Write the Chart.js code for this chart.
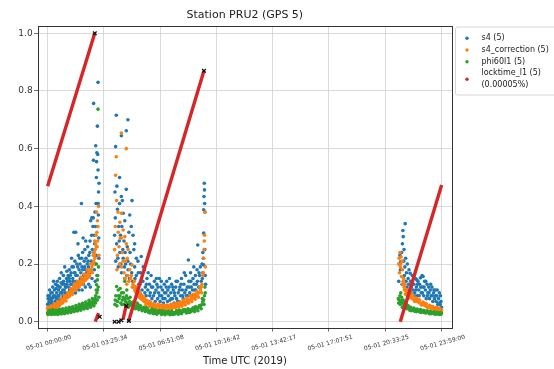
<!DOCTYPE html>
<html><head><meta charset="utf-8">
<script src="https://cdn.jsdelivr.net/npm/chart.js@4/dist/chart.umd.min.js"></script>
<style>html,body{margin:0;padding:0;background:#fff;}canvas{display:block;}</style>
</head><body>
<canvas id="c" width="554" height="369"></canvas>
<script>
// ---- tick labels ----
const tickLabels = ['05-01 00:00:00','05-01 03:25:34','05-01 06:51:08','05-01 10:16:42','05-01 13:42:17','05-01 17:07:51','05-01 20:33:25','05-01 23:59:00'];
const yTicks = [0, 0.2, 0.4, 0.6, 0.8, 1.0];
const seriesLabels = ['s4 (5)', 's4_correction (5)', 'phi60l1 (5)', 'locktime_l1 (5)\n(0.00005%)'];

// ---- series values: [hour UTC, value] ----
const s4Data = [
[0.00,0.06],[0.03,0.08],[0.07,0.05],[0.10,0.07],[0.13,0.09],[0.17,0.06],[0.20,0.10],[0.24,0.07],[0.27,0.08],[0.31,0.12],[0.34,0.06],[0.38,0.09],[0.41,0.11],[0.45,0.07],[0.48,0.13],[0.52,0.08],[0.55,0.10],[0.59,0.14],[0.62,0.07],[0.66,0.11],[0.69,0.09],[0.73,0.15],[0.76,0.12],[0.80,0.08],[0.83,0.17],[0.87,0.10],[0.90,0.13],[0.94,0.09],[0.97,0.14],[1.01,0.11],[1.04,0.19],[1.08,0.12],[1.11,0.09],[1.15,0.15],[1.18,0.13],[1.22,0.10],[1.25,0.16],[1.29,0.12],[1.32,0.18],[1.36,0.14],[1.39,0.11],[1.43,0.17],[1.46,0.22],[1.50,0.13],[1.53,0.15],[1.57,0.19],[1.60,0.31],[1.64,0.12],[1.67,0.17],[1.71,0.31],[1.74,0.14],[1.78,0.20],[1.81,0.16],[1.85,0.27],[1.88,0.13],[1.92,0.18],[1.95,0.22],[1.99,0.15],[2.02,0.17],[2.06,0.41],[2.09,0.19],[2.13,0.24],[2.16,0.29],[2.20,0.16],[2.23,0.21],[2.27,0.25],[2.30,0.18],[2.34,0.22],[2.37,0.15],[2.41,0.20],[2.44,0.26],[2.48,0.19],[2.51,0.23],[2.55,0.17],[2.58,0.28],[2.62,0.35],[2.65,0.21],[2.69,0.36],[2.72,0.25],[2.76,0.33],[2.79,0.56],[2.80,0.757],[2.83,0.30],[2.86,0.27],[2.90,0.20],[2.93,0.61],[2.95,0.41],[2.97,0.50],[2.98,0.555],[3.00,0.586],[3.03,0.678],[3.05,0.58],[3.07,0.83],[3.07,0.526],[3.08,0.41],[3.09,0.37],[3.10,0.45],[3.11,0.29],[3.12,0.22],[3.13,0.48],
[2.10,0.11],[2.30,0.12],[2.50,0.13],[2.70,0.15],[2.90,0.14],[2.60,0.12],[2.85,0.18],[3.00,0.16],[1.90,0.11],[1.70,0.10],
[0.02,0.09],[0.08,0.065],[0.12,0.11],[0.18,0.08],[0.22,0.055],[0.28,0.10],[0.33,0.085],[0.36,0.14],[0.43,0.09],[0.47,0.06],[0.51,0.115],[0.57,0.085],[0.61,0.125],[0.64,0.09],[0.68,0.075],[0.71,0.12],[0.78,0.10],[0.82,0.135],[0.86,0.075],[0.92,0.11],[0.96,0.16],[0.99,0.085],[1.03,0.13],[1.06,0.10],[1.13,0.12],[1.17,0.175],[1.21,0.14],[1.27,0.09],[1.31,0.15],[1.34,0.11],[1.38,0.16],[1.42,0.13],[1.48,0.19],[1.52,0.11],[1.56,0.14],[1.62,0.17],[1.66,0.21],[1.72,0.16],[1.76,0.12],[1.83,0.19],[1.87,0.23],[1.93,0.14],[1.97,0.20],[2.04,0.15],[2.08,0.22],[2.14,0.18],[2.18,0.13],[2.25,0.19],[2.32,0.28],[2.39,0.17],[2.46,0.21],[2.53,0.16],[2.57,0.24],[2.64,0.18],[2.68,0.30],[2.74,0.20],[2.78,0.36],[2.82,0.24],[2.88,0.38],[2.92,0.33],[2.96,0.23],
[4.14,0.607],[4.18,0.716],[4.38,0.50],[4.49,0.645],[4.79,0.662],[4.89,0.70],[4.79,0.459],[4.49,0.434],[4.38,0.41],[4.55,0.42],[5.14,0.42],[4.60,0.376],[4.70,0.35],[5.00,0.37],[5.09,0.33],[5.20,0.30],[5.30,0.27],[5.25,0.25],[5.40,0.22],[4.10,0.45],[4.25,0.39],[4.33,0.33],[4.44,0.30],[4.65,0.28],[4.85,0.26],[4.95,0.31],[4.20,0.27],[4.40,0.24],[4.60,0.22],[4.75,0.20],[4.90,0.18],[5.05,0.20],[4.30,0.19],[4.50,0.17],[4.70,0.15],[4.15,0.21],
[4.08,0.30],[4.12,0.36],[4.22,0.47],[4.28,0.22],[4.36,0.28],[4.46,0.20],[4.52,0.33],[4.58,0.25],[4.68,0.19],[4.72,0.24],[4.82,0.16],[4.88,0.21],[4.98,0.15],[5.02,0.24],[5.12,0.17],[5.18,0.14],
[5.30,0.19],[5.35,0.12],[5.40,0.16],[5.45,0.09],[5.50,0.21],[5.55,0.13],[5.60,0.10],[5.65,0.17],[5.70,0.226],[5.75,0.11],[5.80,0.14],[5.85,0.08],[5.90,0.18],[5.95,0.12],[6.00,0.09],[6.05,0.15],[6.10,0.11],[6.15,0.07],[6.20,0.13],[6.25,0.10],[6.30,0.16],[6.35,0.08],[6.40,0.12],[6.45,0.09],[6.50,0.14],[6.55,0.07],[6.60,0.11],[6.65,0.13],[6.70,0.08],[6.75,0.10],[6.80,0.15],[6.85,0.07],[6.90,0.12],[6.95,0.09],[7.00,0.11],[7.05,0.065],[7.10,0.13],[7.15,0.08],[7.20,0.10],[7.25,0.14],[7.30,0.07],[7.35,0.09],[7.40,0.12],[7.45,0.075],[7.50,0.10],[7.55,0.13],[7.60,0.08],[7.65,0.11],[7.70,0.065],[7.75,0.09],[7.80,0.12],[7.85,0.08],[7.90,0.14],[7.95,0.10],[8.00,0.07],[8.05,0.12],[8.10,0.09],[8.15,0.15],[8.20,0.11],[8.25,0.08],[8.30,0.13],[8.35,0.10],[8.40,0.16],[8.45,0.09],[8.50,0.12],[8.57,0.214],[8.60,0.14],[8.65,0.10],[8.70,0.17],[8.75,0.12],[8.80,0.09],[8.85,0.15],[8.90,0.19],[8.95,0.11],[9.00,0.16],[9.05,0.13],[9.10,0.18],[9.14,0.266],[9.20,0.12],[9.25,0.16],[9.30,0.19],[9.35,0.14],[9.40,0.20],[9.45,0.17],[9.50,0.197],[9.54,0.48],[9.55,0.457],[9.52,0.434],[9.56,0.41],[9.50,0.388],[9.58,0.38],[9.50,0.307],[9.60,0.16],[9.62,0.13],[9.45,0.24],
[5.32,0.15],[5.42,0.11],[5.52,0.17],[5.62,0.13],[5.72,0.09],[5.82,0.19],[5.92,0.10],[6.02,0.13],[6.12,0.17],[6.22,0.09],[6.32,0.12],[6.42,0.06],[6.52,0.10],[6.62,0.15],[6.72,0.12],[6.82,0.09],[6.92,0.14],[7.02,0.08],[7.12,0.10],[7.22,0.12],[7.32,0.11],[7.42,0.15],[7.52,0.08],[7.62,0.12],[7.72,0.10],[7.82,0.14],[7.92,0.07],[8.02,0.11],[8.12,0.13],[8.22,0.09],[8.32,0.17],[8.42,0.11],[8.52,0.09],[8.62,0.12],[8.72,0.14],[8.82,0.11],[8.92,0.13],[9.02,0.11],[9.12,0.14],[9.22,0.17],[9.32,0.12],[9.42,0.15],[9.48,0.22],[9.57,0.25],
[21.40,0.20],[21.45,0.23],[21.50,0.209],[21.55,0.24],[21.60,0.27],[21.63,0.316],[21.65,0.295],[21.70,0.25],[21.75,0.19],[21.77,0.34],[21.80,0.22],[21.85,0.17],[21.90,0.20],[21.95,0.15],[22.00,0.18],[22.07,0.168],[22.10,0.14],[22.15,0.12],[22.20,0.16],[22.25,0.11],[22.30,0.13],[22.35,0.10],[22.40,0.15],[22.45,0.12],[22.48,0.145],[22.50,0.09],[22.55,0.14],[22.60,0.11],[22.65,0.13],[22.70,0.152],[22.75,0.10],[22.80,0.16],[22.86,0.157],[22.85,0.12],[22.90,0.09],[22.95,0.14],[23.00,0.11],[23.05,0.08],[23.10,0.13],[23.15,0.10],[23.20,0.12],[23.25,0.08],[23.30,0.11],[23.35,0.09],[23.40,0.12],[23.45,0.07],[23.50,0.10],[23.55,0.08],[23.60,0.11],[23.65,0.07],[23.70,0.09],[23.75,0.06],[23.80,0.08],[23.85,0.10],[23.90,0.06],[23.95,0.07],[23.98,0.05],
[21.38,0.14],[21.48,0.18],[21.58,0.13],[21.68,0.21],[21.72,0.16],[21.82,0.14],[21.88,0.12],[21.98,0.13],[22.02,0.11],[22.12,0.10],[22.22,0.13],[22.32,0.09],[22.42,0.11],[22.52,0.13],[22.62,0.09],[22.72,0.12],[22.82,0.10],[22.92,0.12],[23.02,0.14],[23.12,0.09],[23.22,0.10],[23.32,0.13],[23.42,0.09],[23.52,0.11],[23.62,0.09],[23.72,0.11],[23.82,0.065],[23.92,0.09]
];
const s4CorrData = [
[0.00,0.045],[0.05,0.040],[0.10,0.050],[0.15,0.042],[0.20,0.048],[0.25,0.052],[0.30,0.045],[0.35,0.050],[0.40,0.055],[0.45,0.048],[0.50,0.058],[0.55,0.052],[0.60,0.060],[0.65,0.055],[0.70,0.065],[0.75,0.060],[0.80,0.070],[0.85,0.064],[0.90,0.075],[0.95,0.070],[1.00,0.080],[1.05,0.075],[1.10,0.085],[1.15,0.090],[1.20,0.083],[1.25,0.095],[1.30,0.100],[1.35,0.092],[1.40,0.105],[1.45,0.110],[1.50,0.100],[1.55,0.115],[1.60,0.120],[1.65,0.110],[1.70,0.125],[1.75,0.118],[1.80,0.130],[1.85,0.122],[1.90,0.135],[1.95,0.128],[2.00,0.140],[2.05,0.130],[2.10,0.145],[2.15,0.138],[2.20,0.150],[2.25,0.142],[2.30,0.155],[2.35,0.160],[2.40,0.150],[2.45,0.165],[2.50,0.170],[2.55,0.160],[2.60,0.180],[2.65,0.175],[2.70,0.190],[2.75,0.200],[2.80,0.210],[2.85,0.230],[2.88,0.220],[2.90,0.250],[2.93,0.270],[2.95,0.300],[2.97,0.260],[3.00,0.310],[3.03,0.350],[3.05,0.280],[3.07,0.330],[3.10,0.400],[3.12,0.230],
[0.02,0.050],[0.12,0.038],[0.22,0.055],[0.32,0.040],[0.42,0.062],[0.52,0.046],[0.62,0.070],[0.72,0.055],[0.82,0.080],[0.92,0.065],[1.02,0.090],[1.12,0.072],[1.22,0.100],[1.32,0.088],[1.42,0.115],[1.52,0.095],[1.62,0.130],[1.72,0.110],[1.82,0.140],[1.92,0.120],[2.02,0.155],[2.12,0.130],[2.22,0.165],[2.32,0.145],[2.42,0.180],[2.52,0.155],[2.62,0.200],[2.72,0.170],[2.82,0.240],[2.92,0.200],[3.02,0.260],[2.98,0.380],[2.87,0.280],[2.78,0.230],
[4.18,0.572],[4.14,0.508],[4.49,0.654],[4.79,0.600],[4.49,0.376],[4.40,0.345],[4.60,0.318],[4.70,0.295],[4.49,0.290],[4.79,0.270],[4.90,0.250],[4.50,0.190],[5.14,0.197],[4.85,0.220],[5.00,0.180],[5.10,0.160],[4.70,0.150],[4.25,0.230],[4.35,0.260],[4.20,0.420],[4.30,0.310],[4.60,0.210],[4.95,0.140],[5.20,0.130],
[4.08,0.250],[4.12,0.330],[4.22,0.180],[4.28,0.380],[4.38,0.200],[4.42,0.290],[4.55,0.240],[4.65,0.170],[4.75,0.210],[4.82,0.130],[4.88,0.160],[5.05,0.150],[5.15,0.120],
[5.25,0.120],[5.30,0.110],[5.35,0.105],[5.40,0.100],[5.45,0.095],[5.50,0.092],[5.55,0.088],[5.60,0.085],[5.65,0.082],[5.70,0.080],[5.75,0.077],[5.80,0.075],[5.85,0.072],[5.90,0.070],[5.95,0.068],[6.00,0.067],[6.05,0.065],[6.10,0.063],[6.15,0.062],[6.20,0.060],[6.25,0.059],[6.30,0.058],[6.35,0.057],[6.40,0.056],[6.45,0.055],[6.50,0.054],[6.60,0.053],[6.70,0.052],[6.80,0.051],[6.90,0.050],[7.00,0.050],[7.10,0.049],[7.20,0.050],[7.30,0.050],[7.40,0.051],[7.50,0.052],[7.60,0.053],[7.70,0.054],[7.80,0.055],[7.90,0.057],[8.00,0.058],[8.10,0.060],[8.20,0.062],[8.30,0.065],[8.40,0.068],[8.50,0.070],[8.60,0.073],[8.70,0.076],[8.80,0.080],[8.90,0.083],[9.00,0.087],[9.10,0.092],[9.20,0.100],[9.30,0.110],[9.35,0.120],[9.40,0.130],[9.45,0.160],[9.50,0.220],[9.52,0.250],[9.54,0.280],[9.55,0.300],[9.58,0.380],[9.60,0.190],
[5.50,0.100],[6.00,0.075],[6.50,0.062],[7.00,0.058],[7.50,0.060],[8.00,0.066],[8.50,0.078],[9.00,0.095],[6.25,0.068],[6.75,0.060],[7.25,0.057],[7.75,0.062],[8.25,0.070],[8.75,0.085],
[5.28,0.140],[5.38,0.120],[5.48,0.110],[5.58,0.100],[5.68,0.095],[5.78,0.088],[5.88,0.082],[5.98,0.058],[6.08,0.072],[6.18,0.052],[6.28,0.065],[6.38,0.048],[6.48,0.060],[6.58,0.045],[6.68,0.058],[6.78,0.044],[6.88,0.056],[6.98,0.043],[7.08,0.056],[7.18,0.044],[7.28,0.057],[7.38,0.045],[7.48,0.058],[7.58,0.046],[7.68,0.060],[7.78,0.048],[7.88,0.064],[7.98,0.050],[8.08,0.068],[8.18,0.054],[8.28,0.075],[8.38,0.058],[8.48,0.082],[8.58,0.064],[8.68,0.090],[8.78,0.070],[8.88,0.095],[8.98,0.078],[9.08,0.105],[9.18,0.085],[9.28,0.120],[9.38,0.100],[9.48,0.170],
[21.40,0.220],[21.45,0.240],[21.50,0.200],[21.55,0.157],[21.60,0.180],[21.65,0.140],[21.70,0.120],[21.75,0.130],[21.80,0.110],[21.85,0.100],[21.90,0.095],[21.95,0.090],[22.00,0.088],[22.10,0.085],[22.20,0.080],[22.30,0.077],[22.40,0.075],[22.50,0.070],[22.60,0.067],[22.70,0.064],[22.80,0.060],[22.90,0.058],[23.00,0.055],[23.10,0.052],[23.20,0.050],[23.30,0.048],[23.40,0.046],[23.50,0.045],[23.60,0.044],[23.70,0.042],[23.80,0.041],[23.90,0.040],[23.98,0.040],
[22.05,0.100],[22.25,0.090],[22.45,0.082],[22.65,0.075],[22.85,0.068],[23.05,0.062],[23.25,0.057],[23.45,0.053],[23.65,0.050],[23.85,0.047],[21.42,0.170],[21.52,0.225],
[21.38,0.200],[21.48,0.190],[21.58,0.210],[21.62,0.130],[21.68,0.150],[21.72,0.110],[21.78,0.095],[21.88,0.110],[21.98,0.082],[22.15,0.095],[22.35,0.070],[22.55,0.078],[22.75,0.058],[22.95,0.064],[23.15,0.048],[23.35,0.053],[23.55,0.042],[23.75,0.047],[23.95,0.037]
];
const phiData = [
[0.00,0.030],[0.05,0.035],[0.10,0.028],[0.15,0.032],[0.20,0.038],[0.25,0.030],[0.30,0.027],[0.35,0.033],[0.40,0.036],[0.45,0.030],[0.50,0.028],[0.55,0.034],[0.60,0.031],[0.65,0.037],[0.70,0.030],[0.75,0.033],[0.80,0.040],[0.85,0.032],[0.90,0.036],[0.95,0.030],[1.00,0.034],[1.05,0.038],[1.10,0.032],[1.15,0.040],[1.20,0.035],[1.25,0.037],[1.30,0.042],[1.35,0.036],[1.40,0.040],[1.45,0.045],[1.50,0.038],[1.55,0.042],[1.60,0.046],[1.65,0.040],[1.70,0.044],[1.75,0.050],[1.80,0.043],[1.85,0.047],[1.90,0.052],[1.95,0.045],[2.00,0.050],[2.05,0.055],[2.10,0.048],[2.15,0.052],[2.20,0.058],[2.25,0.050],[2.30,0.055],[2.35,0.060],[2.40,0.054],[2.45,0.058],[2.50,0.064],[2.55,0.057],[2.60,0.062],[2.65,0.068],[2.70,0.060],[2.75,0.065],[2.80,0.072],[2.85,0.070],[2.90,0.080],[2.93,0.090],[2.96,0.110],[2.98,0.128],[3.00,0.100],[3.03,0.145],[3.05,0.160],[3.07,0.737],[3.08,0.120],[3.10,0.190],[3.12,0.085],
[0.02,0.025],[0.12,0.040],[0.22,0.025],[0.32,0.042],[0.42,0.026],[0.52,0.040],[0.62,0.025],[0.72,0.043],[0.82,0.027],[0.92,0.045],[1.02,0.028],[1.12,0.047],[1.22,0.030],[1.32,0.050],[1.42,0.032],[1.52,0.052],[1.62,0.035],[1.72,0.056],[1.82,0.037],[1.92,0.060],[2.02,0.040],[2.12,0.064],[2.22,0.044],[2.32,0.068],[2.42,0.046],[2.52,0.074],[2.62,0.050],[2.72,0.080],[2.82,0.055],[2.92,0.065],[3.02,0.075],[2.97,0.200],[3.04,0.110],
[4.10,0.060],[4.15,0.090],[4.20,0.122],[4.25,0.070],[4.30,0.110],[4.35,0.080],[4.40,0.090],[4.45,0.065],[4.50,0.100],[4.55,0.075],[4.60,0.085],[4.65,0.060],[4.70,0.140],[4.75,0.070],[4.80,0.090],[4.85,0.065],[4.90,0.080],[4.95,0.060],[5.00,0.070],[5.05,0.058],[5.10,0.065],[5.15,0.055],
[4.12,0.075],[4.22,0.055],[4.32,0.090],[4.42,0.115],[4.52,0.060],[4.62,0.100],[4.72,0.080],[4.82,0.110],[4.92,0.050],[5.02,0.085],
[5.20,0.060],[5.30,0.055],[5.40,0.052],[5.50,0.050],[5.60,0.048],[5.70,0.046],[5.80,0.044],[5.90,0.042],[6.00,0.040],[6.10,0.039],[6.20,0.038],[6.30,0.036],[6.40,0.035],[6.50,0.034],[6.60,0.033],[6.70,0.032],[6.80,0.031],[6.90,0.030],[7.00,0.030],[7.10,0.029],[7.20,0.030],[7.30,0.028],[7.40,0.030],[7.50,0.031],[7.60,0.030],[7.70,0.032],[7.80,0.033],[7.90,0.032],[8.00,0.034],[8.10,0.035],[8.20,0.034],[8.30,0.036],[8.40,0.037],[8.50,0.038],[8.60,0.040],[8.70,0.041],[8.80,0.042],[8.90,0.044],[9.00,0.045],[9.10,0.047],[9.20,0.050],[9.30,0.052],[9.40,0.060],[9.45,0.070],[9.50,0.076],[9.55,0.090],[9.60,0.100],
[5.50,0.060],[6.00,0.048],[6.50,0.040],[7.00,0.036],[7.50,0.026],[8.00,0.040],[8.50,0.032],[9.00,0.052],[6.25,0.030],[6.75,0.038],[7.25,0.035],[7.75,0.027],[8.25,0.041],[8.75,0.036],
[5.25,0.070],[5.35,0.045],[5.45,0.065],[5.55,0.042],[5.65,0.055],[5.75,0.038],[5.85,0.050],[5.95,0.035],[6.05,0.046],[6.15,0.032],[6.35,0.044],[6.45,0.028],[6.55,0.040],[6.65,0.026],[6.85,0.038],[6.95,0.025],[7.05,0.037],[7.15,0.024],[7.35,0.036],[7.45,0.024],[7.55,0.037],[7.65,0.025],[7.85,0.038],[7.95,0.026],[8.05,0.040],[8.15,0.028],[8.35,0.042],[8.45,0.030],[8.55,0.045],[8.65,0.032],[8.85,0.048],[8.95,0.035],[9.05,0.050],[9.15,0.038],[9.25,0.056],[9.35,0.045],[9.42,0.080],[9.52,0.060],[9.58,0.120],
[21.35,0.080],[21.40,0.075],[21.45,0.090],[21.50,0.070],[21.55,0.085],[21.60,0.065],[21.65,0.075],[21.70,0.060],[21.75,0.068],[21.80,0.055],[21.85,0.060],[21.90,0.050],[21.95,0.055],[22.00,0.048],[22.10,0.050],[22.20,0.045],[22.30,0.047],[22.40,0.042],[22.50,0.044],[22.60,0.040],[22.70,0.042],[22.80,0.038],[22.90,0.040],[23.00,0.036],[23.10,0.038],[23.20,0.034],[23.30,0.036],[23.40,0.032],[23.50,0.034],[23.60,0.030],[23.70,0.033],[23.80,0.029],[23.90,0.032],[23.98,0.030],
[22.05,0.040],[22.35,0.036],[22.65,0.034],[22.95,0.031],[23.25,0.028],[23.55,0.027],[23.85,0.025],[21.50,0.100],[21.60,0.050],
[21.37,0.065],[21.47,0.060],[21.57,0.075],[21.67,0.052],[21.77,0.058],[21.87,0.045],[21.97,0.050],[22.15,0.038],[22.25,0.042],[22.45,0.035],[22.55,0.038],[22.75,0.032],[22.85,0.035],[23.05,0.030],[23.15,0.033],[23.35,0.028],[23.45,0.030],[23.65,0.026],[23.75,0.028],[23.95,0.026]
];
// locktime_l1 runs (each run is one straight growth)
const lockRuns = [
[[0.00,0.47],[2.87,1.00]],
[[2.90,0.00],[3.10,0.03]],
[[4.59,0.007],[4.79,0.058]],
[[4.92,0.00],[9.52,0.87]],
[[21.47,0.00],[23.99,0.474]]
];
// black cross markers (lock start / end)
const markData = [[2.87,1.00],[3.17,0.017],[4.08,0.0],[4.32,0.0],[4.49,0.005],[4.79,0.055],[4.95,0.003],[9.52,0.87]];

// ---- build ----
const toHours = l => { const t = l.split(' ')[1].split(':').map(Number); return t[0] + t[1]/60 + t[2]/3600; };
const tickHours = tickLabels.map(toHours);
const toXY = a => a.map(p => ({x: p[0], y: p[1]}));
const lockXY = [];
lockRuns.forEach((run, i) => {
  if (i) lockXY.push({x: run[0][0], y: null});
  run.forEach(p => lockXY.push({x: p[0], y: p[1]}));
});
const COLORS = ['#1f77b4', '#ff7f0e', '#2ca02c', '#d62728'];
const FONT = "'DejaVu Sans', sans-serif";

const framePlugin = {
  id: 'frame',
  afterDatasetsDraw(chart) {
    const {ctx, chartArea: a} = chart;
    ctx.save();
    ctx.strokeStyle = '#333';
    ctx.lineWidth = 1;
    ctx.strokeRect(Math.round(a.left) + 0.5, Math.round(a.top) + 0.5, Math.round(a.right - a.left), Math.round(a.bottom - a.top));
    ctx.restore();
  }
};
const legendPlugin = {
  id: 'mplLegend',
  afterDraw(chart) {
    const {ctx, chartArea: a} = chart;
    const bx = a.right + 3.5, by = a.top + 1, bw = 104, bh = 68;
    ctx.save();
    ctx.fillStyle = 'rgba(255,255,255,0.85)';
    ctx.strokeStyle = '#d6d6d6';
    ctx.lineWidth = 1;
    ctx.beginPath();
    ctx.roundRect(bx, by, bw, bh, 2);
    ctx.fill(); ctx.stroke();
    ctx.font = '8px ' + FONT;
    ctx.textBaseline = 'middle';
    ctx.textAlign = 'left';
    let y = by + 11.3;
    const rowH = 11.7;
    chart.data.datasets.slice(0, 4).forEach((ds, i) => {
      const lines = ds.label.split('\n');
      const my = y + (lines.length - 1) * rowH / 2;
      ctx.fillStyle = COLORS[i];
      ctx.beginPath(); ctx.arc(bx + 11.5, my, 1.7, 0, Math.PI * 2); ctx.fill();
      ctx.fillStyle = '#222';
      lines.forEach((t, k) => ctx.fillText(t, bx + 26, y + k * rowH));
      y += rowH * lines.length;
    });
    ctx.restore();
  }
};

const scatterDs = (label, data, color, order) => ({
  label, data: toXY(data), backgroundColor: color, borderColor: color,
  pointRadius: 1.8, pointBorderWidth: 0, pointHoverRadius: 0, showLine: false, order
});

new Chart(document.getElementById('c'), {
  type: 'scatter',
  data: {
    datasets: [
      scatterDs(seriesLabels[0], s4Data, COLORS[0], 5),
      scatterDs(seriesLabels[1], s4CorrData, COLORS[1], 4),
      scatterDs(seriesLabels[2], phiData, COLORS[2], 3),
      { label: seriesLabels[3], data: lockXY, showLine: true, spanGaps: false, borderColor: COLORS[3], backgroundColor: COLORS[3],
        borderWidth: 3.4, pointRadius: 0, pointHoverRadius: 0, order: 2, borderCapStyle: 'butt' },
      { label: 'marks', data: toXY(markData), pointStyle: 'crossRot', pointRadius: 2.6, pointBorderWidth: 1.3,
        borderColor: '#111', backgroundColor: '#111', showLine: false, order: 1 }
    ]
  },
  options: {
    responsive: false, animation: false, devicePixelRatio: 1,
    layout: { padding: { left: 0, right: 102, top: 0, bottom: 0 } },
    plugins: {
      legend: { display: false },
      tooltip: { enabled: false },
      title: { display: true, text: 'Station PRU2 (GPS 5)', fullSize: false, color: '#222',
        font: { family: FONT, size: 11, weight: 'normal', lineHeight: 1.2 }, padding: { top: 9, bottom: 3.8 } }
    },
    scales: {
      x: {
        type: 'linear', min: -0.606, max: 24.62,
        afterBuildTicks: s => { s.ticks = tickHours.map(v => ({ value: v })); },
        afterFit: s => { s.height = 41; },
        ticks: { autoSkip: false, minRotation: 15, maxRotation: 15, labelOffset: 23.5, padding: 2, color: '#333',
          font: { family: FONT, size: 6 }, callback: (v, i) => tickLabels[i] },
        grid: { color: '#d0d0d0', lineWidth: 0.8, tickLength: 3.5, tickColor: '#444', tickWidth: 0.8 },
        border: { display: false },
        title: { display: true, text: 'Time UTC (2019)', color: '#222', font: { family: FONT, size: 10 }, padding: { top: 0, bottom: 2 } }
      },
      y: {
        type: 'linear', min: -0.0218, max: 1.0253,
        afterBuildTicks: s => { s.ticks = yTicks.map(v => ({ value: v })); },
        afterFit: s => { s.width = 36; },
        ticks: { padding: 1.5, color: '#333', font: { family: FONT, size: 9 }, callback: v => v.toFixed(1) },
        grid: { color: '#d0d0d0', lineWidth: 0.8, tickLength: 3.5, tickColor: '#444', tickWidth: 0.8 },
        border: { display: false }
      }
    }
  },
  plugins: [framePlugin, legendPlugin]
});
</script>
</body></html>
